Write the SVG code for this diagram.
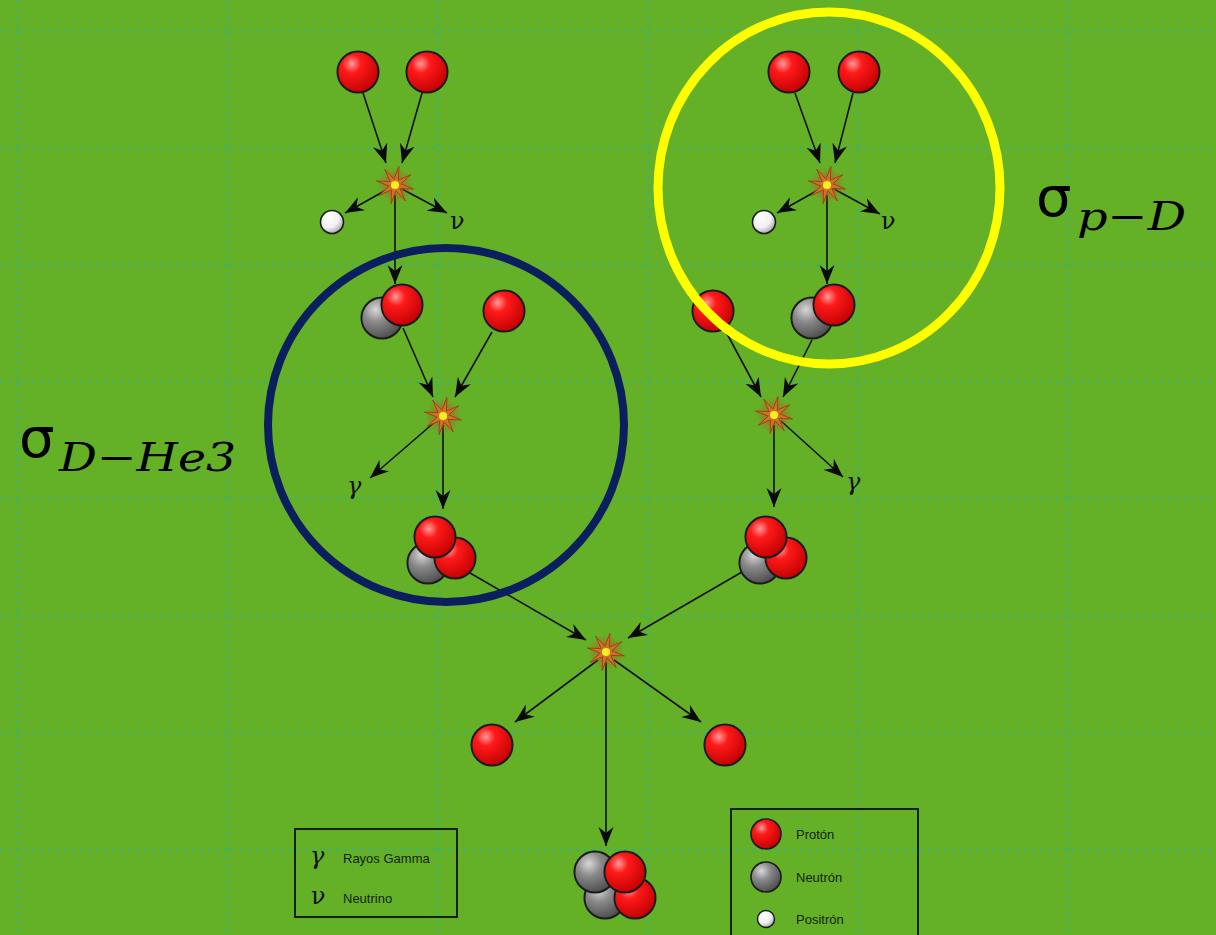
<svg xmlns="http://www.w3.org/2000/svg" xmlns:xlink="http://www.w3.org/1999/xlink" width="1216" height="935" viewBox="0 0 1216 935">
  <defs>
    <radialGradient id="gRed" cx="0.35" cy="0.3" r="0.75">
      <stop offset="0" stop-color="#ff9a9a"/>
      <stop offset="0.3" stop-color="#ff1a1a"/>
      <stop offset="1" stop-color="#c00000"/>
    </radialGradient>
    <radialGradient id="gGray" cx="0.35" cy="0.3" r="0.75">
      <stop offset="0" stop-color="#d8d8d8"/>
      <stop offset="0.4" stop-color="#8a8a8a"/>
      <stop offset="1" stop-color="#4a4a4a"/>
    </radialGradient>
    <radialGradient id="gWhite" cx="0.35" cy="0.3" r="0.75">
      <stop offset="0" stop-color="#ffffff"/>
      <stop offset="0.6" stop-color="#f0f0f0"/>
      <stop offset="1" stop-color="#a0a0a0"/>
    </radialGradient>
    <radialGradient id="gGlow">
      <stop offset="0" stop-color="#e8d020" stop-opacity="0.9"/>
      <stop offset="0.45" stop-color="#c05020" stop-opacity="0.5"/>
      <stop offset="1" stop-color="#c05020" stop-opacity="0"/>
    </radialGradient>
    <marker id="arr" markerUnits="userSpaceOnUse" markerWidth="20" markerHeight="16" refX="19" refY="8" orient="auto">
      <path d="M0,0.5 L19,8 L0,15.5 L6,8 z" fill="#0a0a0a"/>
    </marker>
    <!-- collision burst -->
    <symbol id="burst" viewBox="-24 -24 48 48" overflow="visible">
      <circle r="18" fill="url(#gGlow)"/>
      <polygon points="0,-19 2.3,-5.5 13.4,-13.4 5.5,-2.3 19,0 5.5,2.3 13.4,13.4 2.3,5.5 0,19 -2.3,5.5 -13.4,13.4 -5.5,2.3 -19,0 -5.5,-2.3 -13.4,-13.4 -2.3,-5.5" fill="#d0702a" stroke="#9a3a10" stroke-width="0.8" transform="rotate(12)"/>
      <circle r="4" fill="#f5f020"/>
    </symbol>
    <symbol id="p" viewBox="-23 -23 46 46" overflow="visible">
      <circle r="21.5" fill="url(#gRed)" stroke="#1a1a1a" stroke-width="2"/>
    </symbol>
    <symbol id="n" viewBox="-23 -23 46 46" overflow="visible">
      <circle r="21.5" fill="url(#gGray)" stroke="#1a1a1a" stroke-width="2"/>
    </symbol>
  </defs>
  <style>
    .grid { stroke: #46b260; stroke-width: 3; stroke-dasharray: 3 5; fill: none; }
    .conn line { stroke: #111; stroke-width: 1.6; marker-end: url(#arr); }
    .sym { font-family: "DejaVu Serif", "Liberation Serif", serif; font-size: 24px; fill: #111; }
    .leg { font-family: "Liberation Sans", Arial, sans-serif; font-size: 13px; fill: #142208; }
    .box { fill: none; stroke: #142208; stroke-width: 2; }
    .sig { font-family: "DejaVu Sans", "Liberation Sans", sans-serif; font-size: 56px; fill: #000; }
    .sub { font-family: "DejaVu Serif", "Liberation Serif", serif; font-style: italic; font-size: 40px; fill: #000; }
  </style>

  <!-- background -->
  <rect width="1216" height="935" fill="#64b127"/>
  <g id="grid">
    <path class="grid" d="M18,0V935 M228,0V935 M438,0V935 M648,0V935 M858,0V935 M1068,0V935"/>
    <path class="grid" d="M0,31H1216 M0,148H1216 M0,265H1216 M0,382H1216 M0,499H1216 M0,616H1216 M0,733H1216 M0,850H1216"/>
  </g>

  <!-- arrows -->
  <g id="connectors" class="conn">
    <line x1="363" y1="93" x2="386" y2="163"/>
    <line x1="422" y1="93" x2="402" y2="163"/>
    <line x1="388" y1="189" x2="345" y2="213"/>
    <line x1="402" y1="189" x2="447" y2="213"/>
    <line x1="395" y1="195" x2="395" y2="284"/>

    <line x1="403" y1="328" x2="433" y2="397"/>
    <line x1="492" y1="332" x2="455" y2="397"/>
    <line x1="436" y1="421" x2="370" y2="478"/>
    <line x1="443" y1="425" x2="443" y2="509"/>

    <line x1="795" y1="93" x2="820" y2="163"/>
    <line x1="853" y1="93" x2="835" y2="163"/>
    <line x1="820" y1="189" x2="777" y2="213"/>
    <line x1="834" y1="189" x2="880" y2="214"/>
    <line x1="827" y1="195" x2="827" y2="284"/>

    <line x1="725" y1="330" x2="761" y2="397"/>
    <line x1="812" y1="340" x2="783" y2="397"/>
    <line x1="781" y1="421" x2="843" y2="477"/>
    <line x1="774" y1="425" x2="774" y2="507"/>

    <line x1="470" y1="573" x2="586" y2="640"/>
    <line x1="742" y1="572" x2="628" y2="638"/>
    <line x1="598" y1="660" x2="515" y2="722"/>
    <line x1="614" y1="660" x2="701" y2="722"/>
    <line x1="606" y1="662" x2="606" y2="846"/>
  </g>

  <!-- upper left: p + p -->
  <g id="pp-left">
    <use href="#p" x="336" y="50" width="44" height="44"/>
    <use href="#p" x="405" y="50" width="44" height="44"/>
    <use href="#burst" x="371" y="161" width="48" height="48"/>
    <circle cx="332" cy="222" r="11.5" fill="url(#gWhite)" stroke="#1a1a1a" stroke-width="1.6"/>
    <text class="sym" x="450" y="229">ν</text>
  </g>

  <!-- upper right: p + p -->
  <g id="pp-right">
    <use href="#p" x="767" y="50" width="44" height="44"/>
    <use href="#p" x="837" y="50" width="44" height="44"/>
    <use href="#burst" x="803" y="161" width="48" height="48"/>
    <circle cx="764" cy="222" r="11.5" fill="url(#gWhite)" stroke="#1a1a1a" stroke-width="1.6"/>
    <text class="sym" x="881" y="229">ν</text>
  </g>

  <!-- D + p, left -->
  <g id="dp-left">
    <use href="#n" x="360" y="296" width="44" height="44"/>
    <use href="#p" x="380" y="283" width="44" height="44"/>
    <use href="#p" x="482" y="289" width="44" height="44"/>
    <use href="#burst" x="419" y="392" width="48" height="48"/>
    <text class="sym" x="347" y="494" font-style="italic">γ</text>
  </g>

  <!-- D + p, right -->
  <g id="dp-right">
    <use href="#p" x="691" y="289" width="44" height="44"/>
    <use href="#n" x="790" y="296" width="44" height="44"/>
    <use href="#p" x="812" y="283" width="44" height="44"/>
    <use href="#burst" x="750" y="391" width="48" height="48"/>
    <text class="sym" x="846" y="490" font-style="italic">γ</text>
  </g>

  <!-- helium-3, left -->
  <g id="he3-left">
    <use href="#n" x="406" y="541" width="44" height="44"/>
    <use href="#p" x="433" y="536" width="44" height="44"/>
    <use href="#p" x="413" y="515" width="44" height="44"/>
  </g>

  <!-- helium-3, right -->
  <g id="he3-right">
    <use href="#n" x="738" y="541" width="44" height="44"/>
    <use href="#p" x="764" y="536" width="44" height="44"/>
    <use href="#p" x="744" y="515" width="44" height="44"/>
  </g>

  <!-- He3 + He3 -->
  <g id="he3he3">
    <use href="#burst" x="582" y="628" width="48" height="48"/>
    <use href="#p" x="470" y="723" width="44" height="44"/>
    <use href="#p" x="703" y="723" width="44" height="44"/>
  </g>

  <!-- helium-4 -->
  <g id="he4">
    <use href="#n" x="583" y="876" width="44" height="44"/>
    <use href="#p" x="613" y="876" width="44" height="44"/>
    <use href="#n" x="573" y="850" width="44" height="44"/>
    <use href="#p" x="603" y="850" width="44" height="44"/>
  </g>

  <!-- cross-section rings -->
  <g id="ring-dhe3">
    <ellipse cx="446" cy="425" rx="178" ry="177" fill="none" stroke="#0b1f5e" stroke-width="8"/>
    <text class="sig" x="19" y="457">σ</text>
    <text class="sub" x="59" y="471" textLength="177" lengthAdjust="spacingAndGlyphs">D−He3</text>
  </g>
  <g id="ring-pd">
    <ellipse cx="829" cy="188" rx="171" ry="176" fill="none" stroke="#ffff00" stroke-width="9"/>
    <text class="sig" x="1036" y="216">σ</text>
    <text class="sub" x="1077" y="230" textLength="109" lengthAdjust="spacingAndGlyphs">p−D</text>
  </g>

  <!-- legends -->
  <g id="legend-rays">
    <rect class="box" x="295" y="829" width="162" height="88"/>
    <text class="sym" x="310" y="864" font-style="italic">γ</text>
    <text class="leg" x="343" y="863">Rayos Gamma</text>
    <text class="sym" x="311" y="904">ν</text>
    <text class="leg" x="343" y="903">Neutrino</text>
  </g>
  <g id="legend-particles">
    <rect class="box" x="731" y="809" width="187" height="132"/>
    <circle cx="766" cy="834" r="15" fill="url(#gRed)" stroke="#1a1a1a" stroke-width="1.6"/>
    <text class="leg" x="796" y="839">Protón</text>
    <circle cx="766" cy="877" r="15" fill="url(#gGray)" stroke="#1a1a1a" stroke-width="1.6"/>
    <text class="leg" x="796" y="882">Neutrón</text>
    <circle cx="766" cy="919" r="8.5" fill="url(#gWhite)" stroke="#1a1a1a" stroke-width="1.4"/>
    <text class="leg" x="796" y="924">Positrón</text>
  </g>
</svg>
